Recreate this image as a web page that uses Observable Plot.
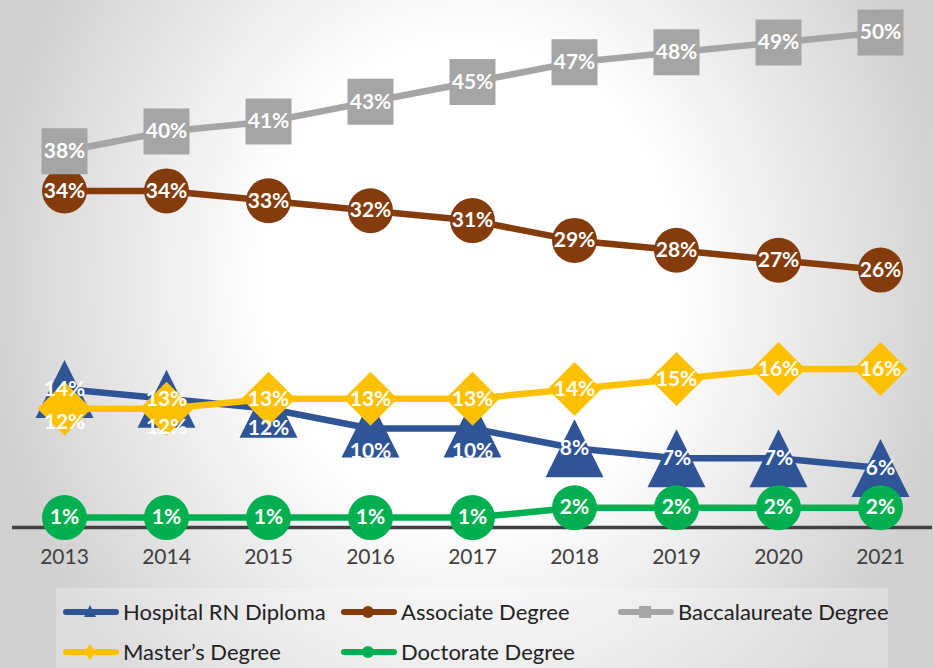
<!DOCTYPE html>
<html>
<head>
<meta charset="utf-8">
<script src="https://cdn.jsdelivr.net/npm/d3@7"></script>
<script src="https://cdn.jsdelivr.net/npm/@observablehq/plot@0.6"></script>
<style>
  html, body { margin: 0; padding: 0; }
  body {
    width: 934px; height: 668px; overflow: hidden; position: relative;
    background: radial-gradient(ellipse 490px 560px at 470px 280px, #ffffff 0%, #ffffff 42%, #d0d0d0 100%);
    font-family: Lato, "Open Sans", sans-serif;
  }
  #chart { position: absolute; left: 0; top: 0; }
  #legend {
    position: absolute; left: 56px; top: 588px; width: 832px; height: 80px;
    background: rgba(255,255,255,0.25);
  }
  .item { position: absolute; display: flex; align-items: center; font-size: 22px; line-height: 28px; color: #222; white-space: nowrap; }
  .item svg { margin-right: 3px; }
</style>
</head>
<body>
<div id="chart"></div>
<div id="legend"></div>
<script>
const years = [2013, 2014, 2015, 2016, 2017, 2018, 2019, 2020, 2021];
const seriesNames = ["Hospital RN Diploma", "Associate Degree", "Baccalaureate Degree", "Master’s Degree", "Doctorate Degree"];
const hospital     = [14, 13, 12, 10, 10, 8, 7, 7, 6];
const associate    = [34, 34, 33, 32, 31, 29, 28, 27, 26];
const baccalaureate= [38, 40, 41, 43, 45, 47, 48, 49, 50];
const masters      = [12, 12, 13, 13, 13, 14, 15, 16, 16];
const doctorate    = [1, 1, 1, 1, 1, 2, 2, 2, 2];
const seriesValues = [hospital, associate, baccalaureate, masters, doctorate];

// styling
const colors = ["#2F5597", "#843C0C", "#A5A5A5", "#FFC000", "#00B050"];
const tri = {draw(c, s) { const r = Math.sqrt(s / Math.PI); c.moveTo(0, -r); c.lineTo(r, r); c.lineTo(-r, r); c.closePath(); }};
const sq = {draw(c, s) { const r = Math.sqrt(s / Math.PI); c.rect(-r, -r, 2 * r, 2 * r); }};
const dia = {draw(c, s) { const r = Math.sqrt(s / Math.PI); c.moveTo(0, -r); c.lineTo(r, 0); c.lineTo(0, r); c.lineTo(-r, 0); c.closePath(); }};
const symbols = [tri, "circle", sq, dia, "circle"];
const radii = [29, 22.5, 23, 27, 22.5];
// manual label nudges (px), as in the original chart
const labelNudge = {"Master’s Degree|2013": 14, "Master’s Degree|2014": 19, "Hospital RN Diploma|2015": 20, "Hospital RN Diploma|2016": 23, "Hospital RN Diploma|2017": 23};

const rows = [];
seriesNames.forEach((s, si) => years.forEach((yr, i) => rows.push({series: s, si, year: String(yr), value: seriesValues[si][i]})));

const marks = [Plot.ruleY([0], {stroke: "#404040", strokeWidth: 3.5})];
seriesNames.forEach((s, si) => {
  const d = rows.filter(r => r.series === s);
  marks.push(Plot.line(d, {x: "year", y: "value", stroke: colors[si], strokeWidth: 6.5, strokeLinejoin: "round"}));
  marks.push(Plot.dot(d, {x: "year", y: "value", symbol: symbols[si], r: radii[si], fill: colors[si], stroke: "none"}));
});
const nudges = [...new Set(rows.map(r => labelNudge[r.series + "|" + r.year] || 0))];
nudges.forEach(n => {
  marks.push(Plot.text(rows.filter(r => (labelNudge[r.series + "|" + r.year] || 0) === n), {
    x: "year", y: "value", text: r => r.value + "%", dy: n,
    fill: "white", fontWeight: "bold", fontSize: 21, fontFamily: "Lato, sans-serif"
  }));
});
marks.push(Plot.axisX({tickSize: 0, tickPadding: 22, fontSize: 21, fontFamily: "Lato, sans-serif", color: "#404040", label: null}));

const chart = Plot.plot({
  width: 934, height: 588,
  marginTop: 32, marginBottom: 61, marginLeft: 12, marginRight: 2,
  style: {background: "transparent", overflow: "visible"},
  x: {type: "point", domain: years.map(String), padding: 0.5},
  y: {domain: [0, 50], axis: null},
  marks
});
document.getElementById("chart").appendChild(chart);

// legend
const legendPos = [[6, 24], [284, 24], [561, 24], [6, 64], [284, 64]];
const legend = document.getElementById("legend");
seriesNames.forEach((s, si) => {
  const div = document.createElement("div");
  div.className = "item";
  div.style.left = legendPos[si][0] + "px";
  div.style.top = (legendPos[si][1] - 14) + "px";
  const sym = symbols[si];
  let shape;
  if (sym === "circle") shape = `<circle cx="28" cy="14" r="6" fill="${colors[si]}"/>`;
  else if (sym === tri) shape = `<path d="M28,7L34,19L22,19Z" fill="${colors[si]}"/>`;
  else if (sym === sq) shape = `<rect x="22" y="8" width="12" height="12" fill="${colors[si]}"/>`;
  else shape = `<path d="M28,6L34,14L28,22L22,14Z" fill="${colors[si]}"/>`;
  div.innerHTML = `<svg width="58" height="28"><line x1="4" y1="14" x2="54" y2="14" stroke="${colors[si]}" stroke-width="6" stroke-linecap="round"/>${shape}</svg><span>${s}</span>`;
  legend.appendChild(div);
});
</script>
</body>
</html>
